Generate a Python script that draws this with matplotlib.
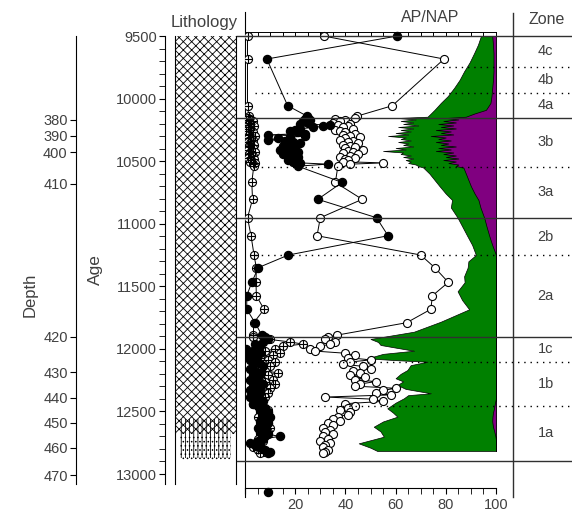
import matplotlib.pyplot as plt
import numpy as np

plt.rcParams['font.family'] = ['Liberation Sans', 'DejaVu Sans']
plt.rcParams['hatch.linewidth'] = 0.6
TXT = '#404040'

# ---- sample ages (cal yr BP), shared by the three point series ----
ages = [9500, 9684, 10057, 10140,
        10155, 10164, 10174, 10183, 10192, 10202, 10212, 10222, 10231, 10241,
        10251, 10260, 10270, 10280, 10290, 10299, 10309, 10319, 10329, 10338,
        10348, 10358, 10368, 10377, 10387, 10397, 10407, 10416, 10426, 10436,
        10446, 10455, 10465, 10475, 10485, 10494, 10504, 10514, 10524, 10540,
        10670, 10805, 10952, 11096, 11250, 11351, 11468, 11575, 11684, 11791, 11890,
        11905, 11925, 11945, 11962, 11980, 12000, 12018, 12035, 12052, 12070,
        12088, 12105, 12122, 12140, 12158, 12175, 12192, 12210, 12228, 12245,
        12262, 12280, 12298, 12315, 12332, 12350, 12368, 12385, 12402, 12420,
        12438, 12455, 12472, 12490, 12508, 12525, 12542, 12560, 12578, 12595,
        12612, 12630, 12648, 12665, 12682, 12700, 12718, 12735, 12752, 12770,
        12788, 12805, 12822, 12835]

cross_vals = [1, 1, 1, 1.5,
              1, 2, 0.5, 3, 1.5, 2.5, 1, 3.5, 2, 1, 2.5, 0.5, 3, 2, 1.5, 4, 2, 1, 3, 2.5,
              1, 2, 3.5, 1.5, 2, 3, 1, 2.5, 4, 2, 1.5, 3, 2, 1, 3.5, 2.5, 2, 4, 3, 3.5,
              2.7, 3, 1, 2.4, 3.6, 4.5, 4.4, 4.5, 7.6, 3.5, 3.3,
              3, 10, 18, 23, 15, 12, 8, 14, 11, 6,
              9, 12, 7, 10, 5, 8, 13, 9, 6, 11,
              8, 12, 7, 10, 6, 9, 5, 8, 4, 6,
              3, 5, 7, 9, 6, 8, 5, 7, 9, 6,
              8, 10, 7, 9, 6, 8, 5, 7, 4, 6,
              3, 5, 7, 6]

open_vals = [31.3, 79.3, 58.7, 44.7,
             44, 36, 40, 38, 35, 42, 37, 41, 39, 43, 36, 38, 40, 44, 39, 42, 46, 40, 38, 43,
             41, 45, 39, 42, 44, 40, 47, 41, 43, 39, 45, 42, 38, 44, 40, 41, 39, 55, 42, 37,
             36, 46.7, 30, 28.7, 70, 75.6, 81, 74.7, 74, 64.4, 36.7,
             33, 32, 36, 34, 30, 26, 28, 40, 44, 41,
             50, 42, 39, 47, 50, 43, 46, 42, 48, 44,
             52, 46, 44, 60, 55, 52, 58, 32, 51, 55,
             40, 44, 41, 38, 42, 41, 37, 35, 38, 33,
             35, 31, 34, 32, 35, 31, 33, 30, 34, 32,
             31, 33, 32, 31]

filled_vals = [60.7, 8.7, 17, 24.7,
               25, 24, 26, 23, 25, 22, 34, 31, 27, 22, 20, 18, 21, 24, 9, 24, 18, 13, 9, 16,
               19, 22, 18, 15, 20, 17, 14, 19, 21, 17, 15, 19, 21, 18, 20, 17, 19, 22, 33, 21,
               38.7, 29, 52.4, 57, 17.3, 5.3, 2.7, 0.7, 0.7, 4, 6.7,
               8, 9, 7, 4, 6, 0.5, 3, 6, 1, 4,
               2, 5, 3, 7, 2, 4, 6, 3, 5, 2,
               4, 7, 3, 5, 2, 6, 4, 2, 5, 7,
               3, 5, 8, 6, 9, 7, 10, 8, 6, 9,
               7, 5, 8, 6, 9, 14, 7, 5, 2, 4,
               6, 8, 10, 9]

stray_age = [13145]
stray_val = [9]

# ---- AP/NAP curves ----
apnap_ages = [9500, 9570, 9636, 9710, 9782, 9850, 9915, 9980, 10035, 10090, 10120, 10145,
              10155, 10167, 10179, 10191, 10203, 10215, 10227, 10239, 10251, 10263,
              10275, 10287, 10299, 10311, 10323, 10335, 10347, 10359, 10371, 10383,
              10395, 10407, 10419, 10431, 10443, 10455, 10467, 10479, 10491, 10503,
              10515, 10527, 10539, 10551,
              10600, 10650, 10700, 10760, 10810, 10870, 10952, 11020, 11096, 11170,
              11250, 11300, 11351, 11420, 11468, 11540, 11610, 11684, 11783, 11863,
              11921, 11945, 11969, 11990, 12015, 12040, 12076, 12090, 12103, 12130,
              12169, 12200, 12235, 12260, 12289, 12320, 12355, 12370, 12395, 12430,
              12475, 12510, 12542, 12580, 12622, 12660, 12702, 12730, 12755, 12790, 12816]

green_edge = [94, 92.8, 91.3, 89.5, 87.3, 85.5, 83.3, 80.8, 78, 75.5, 74, 72.7,
              61, 68, 62, 67, 63, 69, 61, 67, 62, 66,
              60, 65, 57, 64, 62, 66, 61, 65, 63, 67,
              60, 64, 55, 63, 62, 66, 63, 67, 64, 66,
              65, 68, 69, 71,
              73.5, 75.5, 77.5, 80, 82.5, 82, 84.7, 86.5, 88.5, 90.5,
              92, 89, 88.7, 87.3, 87.5, 84.7, 86.5, 89.3, 78, 67.3,
              50, 53, 54, 60, 67.3, 55, 48.7, 60, 72.7, 66,
              64.7, 62, 60, 63, 60.7, 64, 74, 65, 63.3, 60,
              56.7, 59, 60.7, 55, 51.3, 54, 55.3, 50, 45.3, 50, 52.7]

purple_edge = [98.5, 98.8, 99, 99, 99, 98.8, 98.5, 98.2, 97.8, 96, 91.3, 88,
               80, 85, 79, 84, 77, 83, 78, 84, 76, 82,
               78, 83, 74, 80, 77, 82, 76, 81, 78, 84,
               77, 82, 76, 83, 79, 84, 80, 85, 79, 84,
               81, 85, 84, 87,
               88, 89, 90, 91.5, 93, 93.8, 95.3, 96.2, 97.3, 98.5,
               100, 100, 100, 100, 100, 100, 100, 100, 100, 100,
               100, 100, 100, 100, 100, 100, 100, 100, 100, 100,
               100, 100, 100, 100, 100, 100, 100, 100, 100, 99.6,
               99.2, 98.8, 98.6, 98.5, 98.8, 99.3, 99.8, 100, 100, 100, 100]

# ---- zones ----
zone_names = ['4c', '4b', '4a', '3b', '3a', '2b', '2a', '1c', '1b', '1a']
zone_bounds = [9500, 9745, 9953, 10153, 10544, 10957, 11250, 11903, 12103, 12454, 12896]
zone_solid = [True, False, False, True, False, True, False, True, False, False, True]

# ---- depth scale (depth label -> age) ----
depth_labels = [380, 390, 400, 410, 420, 430, 440, 450, 460, 470]
depth_ages = [10171, 10299, 10429, 10680, 11905, 12185, 12390, 12592, 12792, 13008]

# ---- lithology ----
lith_tops = [9500, 12560, 12700]
lith_bases = [12680, 12870, 12900]
lith_hatch = ['xxxx', '||||', '....']

W, H = 572, 512


def fig_box(x0, y0, x1, y1):
    return [x0 / W, 1 - y1 / H, (x1 - x0) / W, (y1 - y0) / H]


def age_at(ypx):
    return 9500 + (ypx - 36) * 3500 / 438


fig = plt.figure(figsize=(W / 100, H / 100), dpi=100)

# depth axis
ax_d = fig.add_axes(fig_box(76, 36, 77, 484))
ax_d.set_ylim(age_at(484), age_at(36))
for s in ['top', 'bottom', 'right']:
    ax_d.spines[s].set_visible(False)
ax_d.set_xticks([])
ax_d.set_yticks(depth_ages)
ax_d.set_yticklabels([str(d) for d in depth_labels])
ax_d.tick_params(axis='y', length=4, labelsize=10.5, labelcolor=TXT, pad=2)
ax_d.patch.set_visible(False)

# age axis
ax_a = fig.add_axes(fig_box(165, 36, 166, 484))
ax_a.set_ylim(age_at(484), age_at(36))
for s in ['top', 'bottom', 'right']:
    ax_a.spines[s].set_visible(False)
ax_a.set_xticks([])
ax_a.set_yticks(np.arange(9500, 13001, 500))
ax_a.set_yticks(np.arange(9500, 13001, 100), minor=True)
ax_a.tick_params(axis='y', which='both', length=4, labelsize=10.5, labelcolor=TXT, pad=2)
ax_a.patch.set_visible(False)

fig.text(30 / W, 1 - 295 / H, 'Depth', rotation=90, ha='center', va='center',
         fontsize=12, color=TXT)
fig.text(95 / W, 1 - 270 / H, 'Age', rotation=90, ha='center', va='center',
         fontsize=12.5, color=TXT)

# lithology column
ax_l = fig.add_axes(fig_box(175, 36, 236, 484))
ax_l.set_xlim(0, 1)
ax_l.set_ylim(age_at(484), age_at(36))
for s in ['top', 'bottom']:
    ax_l.spines[s].set_visible(False)
ax_l.set_xticks([])
ax_l.set_yticks([])
for top, base, hatch in zip(lith_tops, lith_bases, lith_hatch):
    x0 = 0.0 if hatch.startswith('x') else 0.08
    ax_l.fill_betweenx([top, base], x0, 1 - x0, facecolor='none', edgecolor='black',
                       hatch=hatch, linewidth=0)
fig.text(204 / W, 1 - 22 / H, 'Lithology', ha='center', va='center', fontsize=12, color=TXT)

# main panel
ax = fig.add_axes(fig_box(245, 12, 496, 488))
ax.set_xlim(0, 100)
ax.set_ylim(age_at(488), age_at(12))
ax.patch.set_visible(False)
ax.spines['top'].set_visible(False)
ax.spines['right'].set_visible(False)
ax.spines['left'].set_bounds(age_at(497), age_at(12))
ax.set_yticks([])
ax.set_xticks([0, 20, 40, 60, 80, 100])
ax.set_xticklabels(['', '20', '40', '60', '80', '100'])
ax.set_xticks(np.arange(0, 101, 5), minor=True)
ax.tick_params(axis='x', which='both', length=4, labelsize=10.5, labelcolor=TXT, pad=3)

ax.fill_betweenx(apnap_ages, green_edge, 100, facecolor='#008000', edgecolor='black',
                 linewidth=0.5, zorder=2)
ax.fill_betweenx(apnap_ages, purple_edge, 100, facecolor='#800080', edgecolor='black',
                 linewidth=0.5, zorder=2)

ax.plot(cross_vals, ages, color='black', lw=0.7, marker='o', ms=5.8, mfc='white',
        mec='black', mew=0.8, zorder=3)
ax.plot(cross_vals, ages, ls='none', marker='+', ms=5.8, color='black', mew=0.8, zorder=3)
ax.plot(open_vals, ages, color='black', lw=0.7, marker='o', ms=5.8, mfc='white',
        mec='black', mew=0.8, zorder=4)
ax.plot(filled_vals, ages, color='black', lw=0.7, marker='o', ms=5.8, mfc='black',
        mec='black', zorder=5)
ax.plot(stray_val, stray_age, ls='none', marker='o', ms=5.8, color='black', clip_on=False)

# top tick marks along 9500
for v in np.arange(0, 101, 5):
    ax.plot([v, v], [age_at(32), age_at(35)], color='black', lw=0.7, clip_on=False)
ax.plot([0, 100], [age_at(32), age_at(32)], color='black', lw=0.7, clip_on=False)

# zone boundaries
for a, solid in zip(zone_bounds, zone_solid):
    if solid:
        ax.plot([-3, 131], [a, a], color='#303030', lw=1.0, clip_on=False, zorder=6)
    else:
        ax.plot([4, 131], [a, a], color='black', lw=1.0, ls=(0, (1, 3.5)),
                clip_on=False, zorder=6)
ax.plot([106.8, 106.8], [age_at(13), age_at(497)], color='#303030', lw=1.0,
        clip_on=False, zorder=6)
for name, a0, a1 in zip(zone_names, zone_bounds[:-1], zone_bounds[1:]):
    ax.text(119.8, (a0 + a1) / 2, name, ha='center', va='center', fontsize=10.5,
            color=TXT, clip_on=False)

fig.text(430 / W, 1 - 18 / H, 'AP/NAP', ha='center', va='center', fontsize=11.5, color=TXT)
fig.text(547 / W, 1 - 19 / H, 'Zone', ha='center', va='center', fontsize=11.5, color=TXT)

fig.savefig('out.png', dpi=100)
